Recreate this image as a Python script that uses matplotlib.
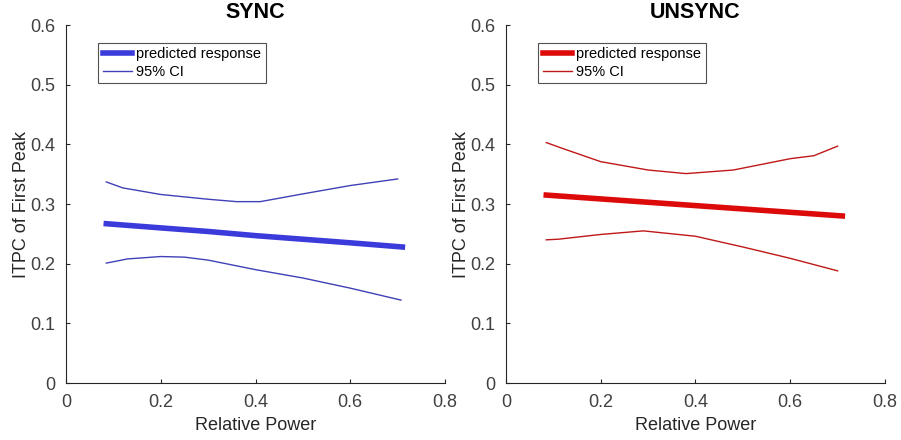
import matplotlib
matplotlib.use('Agg')
import matplotlib.pyplot as plt

plt.rcParams['font.family'] = ['Liberation Sans', 'DejaVu Sans']

# SYNC
sync_x = [0.085, 0.2, 0.3, 0.4, 0.5, 0.6, 0.71]
sync_pred = [0.267, 0.260, 0.254, 0.247, 0.241, 0.235, 0.228]
sync_up_x = [0.085, 0.12, 0.2, 0.3, 0.36, 0.41, 0.5, 0.6, 0.7]
sync_up = [0.337, 0.327, 0.316, 0.308, 0.304, 0.304, 0.317, 0.331, 0.342]
sync_lo_x = [0.085, 0.13, 0.2, 0.25, 0.3, 0.4, 0.5, 0.6, 0.707]
sync_lo = [0.201, 0.208, 0.212, 0.211, 0.206, 0.190, 0.176, 0.159, 0.139]

# UNSYNC
unsync_x = [0.085, 0.71]
unsync_pred = [0.315, 0.280]
unsync_up_x = [0.085, 0.12, 0.2, 0.3, 0.38, 0.48, 0.6, 0.65, 0.7]
unsync_up = [0.403, 0.393, 0.371, 0.357, 0.351, 0.357, 0.376, 0.381, 0.397]
unsync_lo_x = [0.085, 0.11, 0.2, 0.29, 0.4, 0.5, 0.6, 0.7]
unsync_lo = [0.240, 0.241, 0.249, 0.255, 0.246, 0.228, 0.209, 0.188]

fig = plt.figure(figsize=(9.01, 4.40), dpi=100)
ax1 = fig.add_axes([0.0733, 0.1295, 0.4206, 0.8136])
ax2 = fig.add_axes([0.5616, 0.1295, 0.4206, 0.8136])


def draw(ax, title, color, dark, x, pred, ux, up, lx, lo):
    ax.plot(x, pred, color=color, lw=4, label='predicted response')
    ax.plot(ux, up, color=dark, lw=1, label='95% CI')
    ax.plot(lx, lo, color=dark, lw=1)
    ax.set_xlim(0, 0.8)
    ax.set_ylim(0, 0.6)
    ax.set_xticks([0, 0.2, 0.4, 0.6, 0.8])
    ax.set_xticklabels(['0', '0.2', '0.4', '0.6', '0.8'])
    ax.set_yticks([0, 0.1, 0.2, 0.3, 0.4, 0.5, 0.6])
    ax.set_yticklabels(['0', '0.1', '0.2', '0.3', '0.4', '0.5', '0.6'])
    for s in ['top', 'right']:
        ax.spines[s].set_visible(False)
    for s in ['left', 'bottom']:
        ax.spines[s].set_color('#262626')
        ax.spines[s].set_linewidth(0.8)
    ax.tick_params(direction='in', length=3, colors='#262626', labelsize=13,
                   labelcolor='#404040', pad=8)
    ax.set_xlabel('Relative Power', fontsize=13, color='#262626', labelpad=4)
    ax.set_ylabel('ITPC of First Peak', fontsize=13, color='#262626', labelpad=0)
    ax.set_title(title, fontsize=15.5, fontweight='bold', pad=5)
    leg = ax.legend(loc='upper left', bbox_to_anchor=(0.085, 0.95), fontsize=10.5,
                    frameon=True, fancybox=False, handlelength=2.0, handletextpad=0.3,
                    borderpad=0.3, labelspacing=0.25, borderaxespad=0)
    leg.get_frame().set_edgecolor('#262626')
    leg.get_frame().set_linewidth(0.8)


draw(ax1, 'SYNC', '#3b3bdb', '#4040b8', sync_x, sync_pred, sync_up_x, sync_up, sync_lo_x, sync_lo)
draw(ax2, 'UNSYNC', '#dd0a0a', '#c01818', unsync_x, unsync_pred, unsync_up_x, unsync_up, unsync_lo_x, unsync_lo)

fig.savefig('out.png', dpi=100)
